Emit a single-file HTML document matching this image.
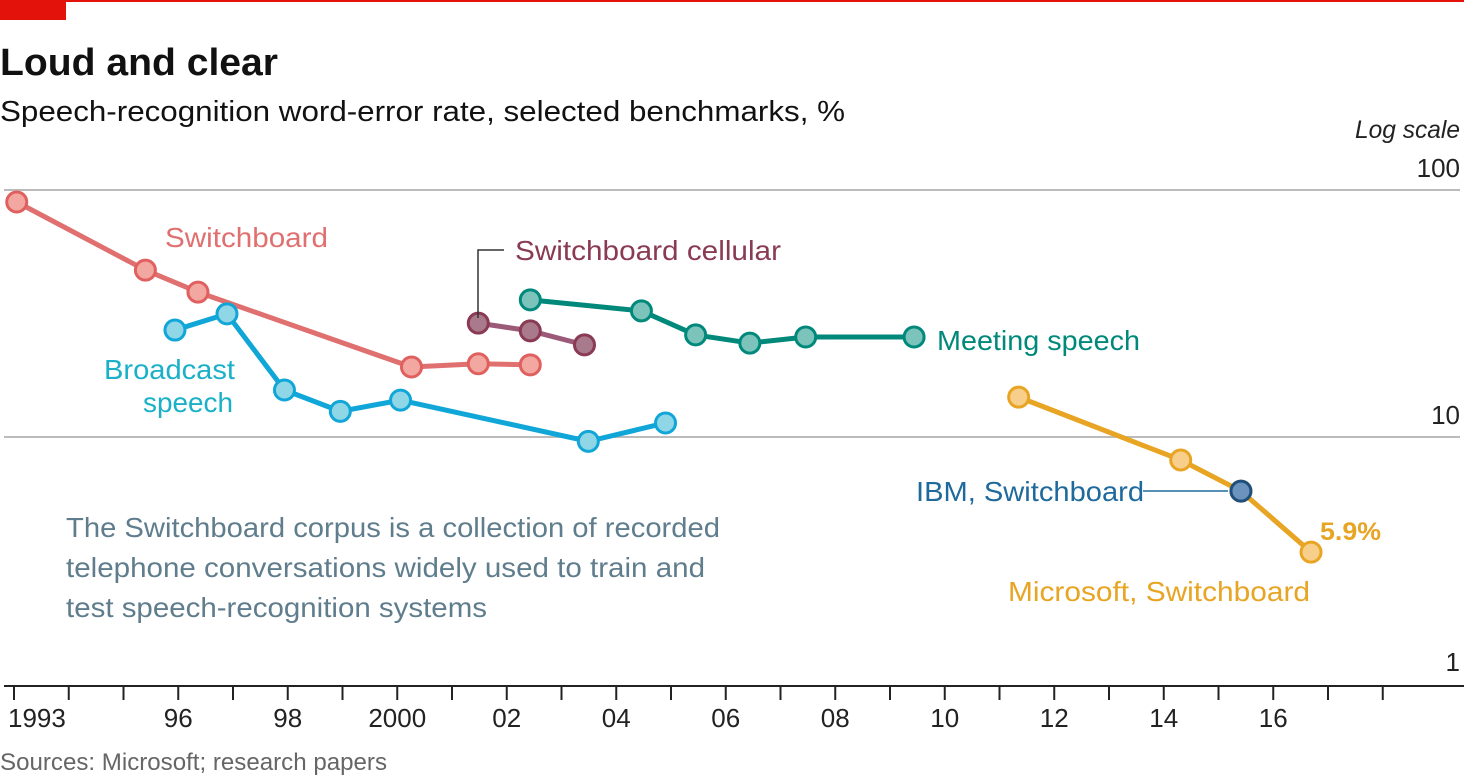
<!DOCTYPE html>
<html><head><meta charset="utf-8"><style>
body{margin:0;background:#fff;width:1464px;height:779px;overflow:hidden;font-family:"Liberation Sans",sans-serif}
svg text{font-family:"Liberation Sans",sans-serif}
</style></head><body>
<svg id="chart" width="1464" height="779">
<rect x="0" y="0" width="1464" height="2" fill="#e3120b"/>
<rect x="0" y="0" width="66" height="20" fill="#e3120b"/>
<text x="0" y="75" font-size="38" font-weight="bold" fill="#111" textLength="278" lengthAdjust="spacingAndGlyphs">Loud and clear</text>
<text x="0" y="121" font-size="29" fill="#111" textLength="845" lengthAdjust="spacingAndGlyphs">Speech-recognition word-error rate, selected benchmarks, %</text>
<text x="1460" y="138" font-size="25" font-style="italic" text-anchor="end" fill="#222" textLength="105" lengthAdjust="spacingAndGlyphs">Log scale</text>
<g id="grid"></g><g id="axis"></g><g id="series"></g>
<text x="165" y="247" font-size="28" fill="#e07070" textLength="163" lengthAdjust="spacingAndGlyphs">Switchboard</text>
<text x="104" y="379" font-size="28" fill="#1ab0c8" textLength="131" lengthAdjust="spacingAndGlyphs">Broadcast</text>
<text x="143" y="412" font-size="28" fill="#1ab0c8" textLength="90" lengthAdjust="spacingAndGlyphs">speech</text>
<polyline points="478,318 478,250 504,250" fill="none" stroke="#333" stroke-width="1.5"/>
<text x="515" y="260" font-size="28" fill="#8a3a52" textLength="266" lengthAdjust="spacingAndGlyphs">Switchboard cellular</text>
<text x="937" y="350" font-size="28" fill="#00897b" textLength="203" lengthAdjust="spacingAndGlyphs">Meeting speech</text>
<line x1="1143" y1="491" x2="1228" y2="491" stroke="#1f6a9c" stroke-width="1.5"/>
<text x="916" y="501" font-size="28" fill="#1f6a9c" textLength="228" lengthAdjust="spacingAndGlyphs">IBM, Switchboard</text>
<text x="1320" y="540" font-size="25" font-weight="bold" fill="#e8a423" textLength="61" lengthAdjust="spacingAndGlyphs">5.9%</text>
<text x="1008" y="601" font-size="28" fill="#e8a423" textLength="302" lengthAdjust="spacingAndGlyphs">Microsoft, Switchboard</text>
<text x="66" y="537" font-size="28" fill="#5f7d8c" textLength="654" lengthAdjust="spacingAndGlyphs">The Switchboard corpus is a collection of recorded</text>
<text x="66" y="577" font-size="28" fill="#5f7d8c" textLength="639" lengthAdjust="spacingAndGlyphs">telephone conversations widely used to train and</text>
<text x="66" y="617" font-size="28" fill="#5f7d8c" textLength="421" lengthAdjust="spacingAndGlyphs">test speech-recognition systems</text>
<text x="0" y="770" font-size="24" fill="#666" textLength="387" lengthAdjust="spacingAndGlyphs">Sources: Microsoft; research papers</text>
</svg>
<script>
const yTicks=[1,10,100];
const xTickYears=[1993,1994,1995,1996,1997,1998,1999,2000,2001,2002,2003,2004,2005,2006,2007,2008,2009,2010,2011,2012,2013,2014,2015,2016,2017,2018];
const xLabelYears=[1993,1996,1998,2000,2002,2004,2006,2008,2010,2012,2014,2016];
const xLabels=["1993","96","98","2000","02","04","06","08","10","12","14","16"];
const swYears=[1993.05,1995.4,1996.36,2000.26,2001.48,2002.43];
const swVals=[89.4,47.4,38.6,19.2,19.8,19.6];
const bcYears=[1995.94,1996.89,1997.94,1998.96,2000.06,2003.49,2004.9];
const bcVals=[27.1,31.5,15.5,12.7,14.1,9.6,11.4];
const cellYears=[2001.48,2002.43,2003.42];
const cellVals=[28.9,26.9,23.6];
const mtYears=[2002.43,2004.46,2005.45,2006.44,2007.46,2009.44];
const mtVals=[35.9,32.4,25.9,24.0,25.4,25.4];
const msYears=[2011.35,2014.31,2015.41,2016.69];
const msVals=[14.5,8.07,6.04,3.42];
const ibmYears=[2015.41];
const ibmVals=[6.04];

const NS="http://www.w3.org/2000/svg";
const X=y=>14+(y-1993)*54.75;
const Y=v=>684-247*Math.log10(v);
function mk(t,a,p){const e=document.createElementNS(NS,t);for(const k in a)e.setAttribute(k,a[k]);p.appendChild(e);return e;}
const grid=document.getElementById('grid'),axis=document.getElementById('axis'),ser=document.getElementById('series');
yTicks.forEach(v=>{
  if(v>1){const l=mk('line',{x1:4,x2:1460,y1:Y(v),y2:Y(v),stroke:'#bbb','stroke-width':2},grid);
  
  }
  const t=mk('text',{x:1460,y:Y(v)-13,'font-size':26,'text-anchor':'end',fill:'#222'},grid);t.textContent=v;
  
  
});
const ax=mk('line',{x1:4,x2:1464,y1:686,y2:686,stroke:'#222','stroke-width':2},axis);


xTickYears.forEach(yr=>{const l=mk('line',{x1:X(yr),x2:X(yr),y1:686,y2:700,stroke:'#222','stroke-width':2},axis);
  
  });
xLabelYears.forEach((yr,i)=>{const t=mk('text',{x:i==0?X(yr)-6:X(yr),y:727,'font-size':26,'text-anchor':i==0?'start':'middle',fill:'#222'},axis);t.textContent=xLabels[i];
  
  });
function series(name,ys,vs,line,fill,stroke){
  const g=mk('g',{},ser);
  
  
  if(line){const p=mk('polyline',{points:ys.map((y,i)=>X(y)+','+Y(vs[i])).join(' '),fill:'none',stroke:line,'stroke-width':5,'stroke-linejoin':'round'},g);
  
  }
  ys.forEach((y,i)=>{const c=mk('circle',{cx:X(y),cy:Y(vs[i]),r:10,fill:fill,stroke:stroke,'stroke-width':3},g);
  
  });
}
series('switchboard',swYears,swVals,'#e07070','#f2a8a0','#e06060');
series('broadcast',bcYears,bcVals,'#10a6d8','#8fd6e6','#10a6d8');
series('cellular',cellYears,cellVals,'#9a5a78','#a87a8c','#8a3a52');
series('meeting',mtYears,mtVals,'#00897b','#7cc4bb','#00897b');
series('microsoft',msYears,msVals,'#e8a423','#f7cf8a','#e8a423');
series('ibm',ibmYears,ibmVals,null,'#6b93bd','#1f4f7c');
</script>
</body></html>
